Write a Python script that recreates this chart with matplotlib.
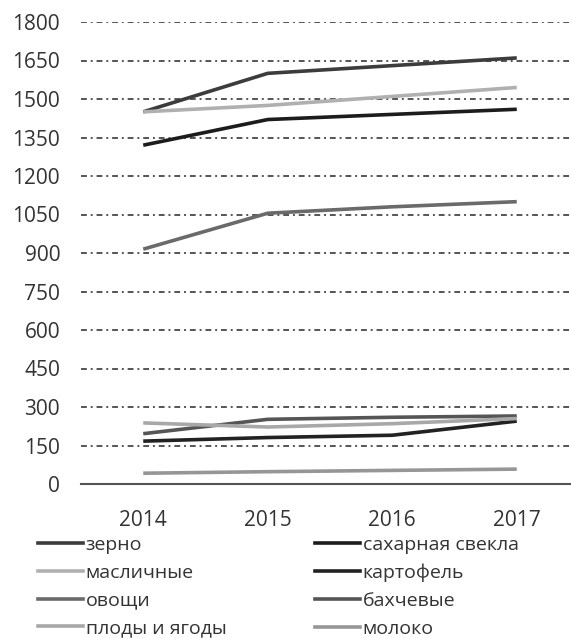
import matplotlib
matplotlib.use("Agg")
import matplotlib.pyplot as plt
from matplotlib.lines import Line2D

plt.rcParams['font.family'] = ['Open Sans', 'DejaVu Sans']

years = ["2014", "2015", "2016", "2017"]
y_ticks = [0, 150, 300, 450, 600, 750, 900, 1050, 1200, 1350, 1500, 1650, 1800]

zerno = [1450, 1600, 1630, 1660]
sakh_svekla = [1320, 1420, 1440, 1460]
maslichnye = [1450, 1475, 1510, 1545]
kartofel = [167, 181, 190, 245]
ovoshchi = [915, 1055, 1080, 1100]
bakhchevye = [196, 252, 260, 265]
plody = [238, 222, 235, 255]
moloko = [42, 48, 53, 58]

series = [
    ("зерно", zerno, "#3c3c3c"),
    ("сахарная свекла", sakh_svekla, "#1c1c1c"),
    ("масличные", maslichnye, "#b0b0b0"),
    ("картофель", kartofel, "#222222"),
    ("овощи", ovoshchi, "#6a6a6a"),
    ("бахчевые", bakhchevye, "#555555"),
    ("плоды и ягоды", plody, "#a8a8a8"),
    ("молоко", moloko, "#969696"),
]

W, H = 571, 638
fig = plt.figure(figsize=(W / 100, H / 100), dpi=100)
x0, x1 = 81, 579
yb, yt = 484, 22
ax = fig.add_axes([x0 / W, (H - yb) / H, (x1 - x0) / W, (yb - yt) / H])

xs = list(range(len(years)))
handles = {}
for name, vals, col in series:
    ax.plot(xs, vals, color=col, lw=2.6, solid_capstyle='butt', zorder=3)
    handles[name] = Line2D([], [], color=col, lw=2.6)

ax.set_xlim(-0.5, len(years) - 0.5)
ax.set_ylim(0, 1800)
ax.set_yticks(y_ticks)
ax.set_yticklabels([str(v) for v in y_ticks])
ax.set_xticks(xs)
ax.set_xticklabels(years)
for v in y_ticks[1:]:
    ax.axhline(v, color="#555555", lw=1.4, linestyle=(0, (3.0, 2.0, 1.0, 2.0)), zorder=1)
ax.tick_params(axis='y', length=0, pad=15, labelsize=15, labelcolor="#333333")
ax.tick_params(axis='x', length=0, pad=19, labelsize=15, labelcolor="#333333")
for s in ['left', 'right', 'top']:
    ax.spines[s].set_visible(False)
ax.spines['bottom'].set_color("#555555")
ax.spines['bottom'].set_linewidth(1.5)

left_names = ["зерно", "масличные", "овощи", "плоды и ягоды"]
right_names = ["сахарная свекла", "картофель", "бахчевые", "молоко"]
common = dict(loc='upper left', frameon=False, fontsize=14, handlelength=2.3,
              handletextpad=0.15, labelspacing=0.5, borderpad=0, borderaxespad=0,
              labelcolor="#333333")
fig.legend([handles[n] for n in left_names], left_names,
           bbox_to_anchor=(38 / W, 1 - 536 / H), **common)
fig.legend([handles[n] for n in right_names], right_names,
           bbox_to_anchor=(315 / W, 1 - 536 / H), **common)

fig.savefig("out.png", dpi=100)
